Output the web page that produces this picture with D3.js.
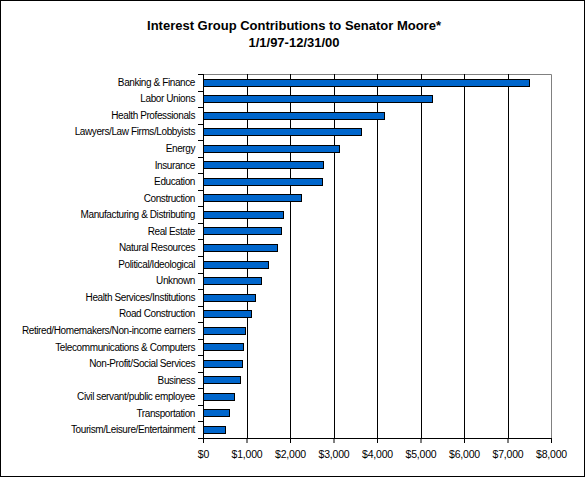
<!DOCTYPE html>
<html>
<head>
<meta charset="utf-8">
<script src="https://cdn.jsdelivr.net/npm/d3@7"></script>
<style>
  body { margin: 0; background: #fff; }
  svg { display: block; font-family: Arial, "Liberation Sans", sans-serif; }
</style>
</head>
<body>
<div id="vis"></div>
<script>
// Contribution categories, top to bottom
var categories = [
  'Banking & Finance', 'Labor Unions', 'Health Professionals',
  'Lawyers/Law Firms/Lobbyists', 'Energy', 'Insurance', 'Education',
  'Construction', 'Manufacturing & Distributing', 'Real Estate',
  'Natural Resources', 'Political/Ideological', 'Unknown',
  'Health Services/Institutions', 'Road Construction',
  'Retired/Homemakers/Non-income earners', 'Telecommunications & Computers',
  'Non-Profit/Social Services', 'Business', 'Civil servant/public employee',
  'Transportation', 'Tourism/Leisure/Entertainment'
];

// Dollars contributed, same order as categories
var amounts = [
  7500, 5270, 4150, 3640, 3130, 2770, 2740, 2260, 1850, 1800, 1710,
  1500, 1340, 1200, 1110, 970, 930, 900, 860, 720, 600, 510
];

var xTicks = [0, 1000, 2000, 3000, 4000, 5000, 6000, 7000, 8000];

var titleLines = ['Interest Group Contributions to Senator Moore*', '1/1/97-12/31/00'];

var width = 586;
var height = 479;
var margin = { top: 74, left: 203, bottom: 41, right: 35 };
var plotW = width - margin.left - margin.right;
var plotH = height - margin.top - margin.bottom;

var svg = d3.select('#vis').append('svg')
  .attr('width', width)
  .attr('height', height);

// outer chart border
svg.append('rect')
  .attr('x', 0.5).attr('y', 0.5)
  .attr('width', width - 2).attr('height', height - 3)
  .attr('fill', 'white')
  .attr('stroke', 'black');

// title
svg.selectAll('.title').data(titleLines)
  .enter().append('text')
  .attr('class', 'title')
  .attr('x', 294)
  .attr('y', function (d, i) { return 30 + i * 17; })
  .attr('text-anchor', 'middle')
  .style('font-size', '13px')
  .style('font-weight', 'bold')
  .text(function (d) { return d; });

var g = svg.append('g')
  .attr('transform', 'translate(' + margin.left + ',' + margin.top + ')');

var x = d3.scaleLinear()
  .domain([0, 8000])
  .range([0, plotW]);

var y = d3.scaleBand()
  .domain(categories)
  .range([0, plotH])
  .paddingInner(0.55)
  .paddingOuter(0.275);

// plot area frame (gray top & right)
g.append('path')
  .attr('d', 'M0,0.5H' + (plotW + 0.5) + 'V' + plotH)
  .attr('fill', 'none')
  .attr('stroke', '#808080');

// vertical gridlines
g.selectAll('.grid').data(xTicks.slice(1, -1))
  .enter().append('line')
  .attr('class', 'grid')
  .attr('x1', function (d) { return Math.round(x(d)) + 0.5; })
  .attr('x2', function (d) { return Math.round(x(d)) + 0.5; })
  .attr('y1', 0)
  .attr('y2', plotH)
  .attr('stroke', 'black');

// bars
g.selectAll('.bar').data(amounts)
  .enter().append('rect')
  .attr('class', 'bar')
  .attr('x', 0.5)
  .attr('y', function (d, i) { return Math.round(y(categories[i])) + 0.5; })
  .attr('width', function (d) { return Math.round(x(d)); })
  .attr('height', Math.round(y.bandwidth()))
  .attr('fill', '#0066CC')
  .attr('stroke', 'black');

// x axis
var xAxis = d3.axisBottom(x)
  .tickValues(xTicks)
  .tickSizeInner(5)
  .tickSizeOuter(0)
  .tickPadding(8)
  .tickFormat(function (d) { return '$' + d3.format(',')(d); });

var xg = g.append('g')
  .attr('transform', 'translate(0,' + plotH + ')')
  .call(xAxis);
xg.select('.domain').attr('stroke', 'black');
xg.selectAll('text')
  .style('font-size', '10.5px')
  .style('letter-spacing', '-0.2px')
  .attr('fill', 'black');

// y axis: line plus ticks at category boundaries
var step = y.step();
var boundaries = d3.range(categories.length + 1).map(function (i) { return i * step; });

g.append('line')
  .attr('x1', 0.5).attr('x2', 0.5)
  .attr('y1', 0).attr('y2', plotH)
  .attr('stroke', 'black');

g.selectAll('.ytick').data(boundaries)
  .enter().append('line')
  .attr('class', 'ytick')
  .attr('x1', -5).attr('x2', 0)
  .attr('y1', function (d) { return Math.round(d) + 0.5; })
  .attr('y2', function (d) { return Math.round(d) + 0.5; })
  .attr('stroke', 'black');

g.selectAll('.ylabel').data(categories)
  .enter().append('text')
  .attr('class', 'ylabel')
  .attr('x', -8)
  .attr('y', function (d) { return y(d) + y.bandwidth() / 2; })
  .attr('dy', '0.35em')
  .attr('text-anchor', 'end')
  .style('font-size', '10px')
  .style('letter-spacing', '-0.4px')
  .text(function (d) { return d; });
</script>
</body>
</html>
